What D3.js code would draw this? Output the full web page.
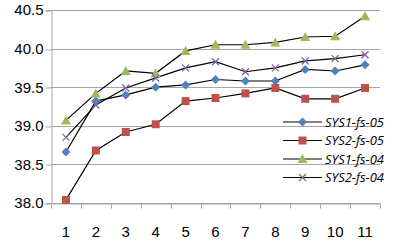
<!DOCTYPE html>
<html lang="en">
<head>
  <meta charset="UTF-8">
  <title>Line chart</title>
  <script src="https://d3js.org/d3.v7.min.js"></script>
  <style>
    body {
      margin: 0;
      background: #fff;
      overflow: hidden;
    }
    .tick-label {
      font-family: "Liberation Sans", Arial, sans-serif;
      font-size: 15px;
      fill: #000;
    }
    .legend-label {
      font-family: "Open Sans", sans-serif;
      font-size: 13px;
      font-style: italic;
      fill: #000;
    }
  </style>
</head>
<body>
  <div id="chart"></div>
  <script>
    const categories = ["1", "2", "3", "4", "5", "6", "7", "8", "9", "10", "11"];
    const seriesNames = ["SYS1-fs-05", "SYS2-fs-05", "SYS1-fs-04", "SYS2-fs-04"];
    const sys1fs05 = [38.66, 39.32, 39.40, 39.50, 39.53, 39.60, 39.58, 39.58, 39.73, 39.71, 39.79];
    const sys2fs05 = [38.04, 38.68, 38.92, 39.02, 39.32, 39.36, 39.42, 39.49, 39.35, 39.35, 39.49];
    const sys1fs04 = [39.07, 39.42, 39.71, 39.68, 39.97, 40.05, 40.05, 40.08, 40.15, 40.16, 40.42];
    const sys2fs04 = [38.85, 39.27, 39.49, 39.62, 39.75, 39.83, 39.70, 39.75, 39.84, 39.87, 39.92];
    const yTicks = [38.0, 38.5, 39.0, 39.5, 40.0, 40.5];

    const markerColors = ["#4F81BD", "#C0504D", "#9BBB59", "#8064A2"];
    const markerTypes = ["diamond", "square", "triangle", "cross"];
    const seriesValues = [sys1fs05, sys2fs05, sys1fs04, sys2fs04];

    const width = 397, height = 244;
    const margin = { left: 51, right: 17, top: 10, bottom: 41 };

    const svg = d3.select("#chart").append("svg")
      .attr("width", width)
      .attr("height", height);

    const x = d3.scaleBand()
      .domain(categories)
      .range([margin.left, width - margin.right]);

    const y = d3.scaleLinear()
      .domain([38.0, 40.5])
      .range([height - margin.bottom, margin.top]);

    // gridlines
    svg.append("g")
      .selectAll("line")
      .data(yTicks)
      .join("line")
      .attr("x1", margin.left)
      .attr("x2", width - margin.right)
      .attr("y1", d => Math.round(y(d)) + 0.5)
      .attr("y2", d => Math.round(y(d)) + 0.5)
      .attr("stroke", "#a6a6a6")
      .attr("stroke-width", 1);

    // y axis
    const yAxis = svg.append("g")
      .attr("transform", `translate(${margin.left + 0.5},0)`)
      .call(d3.axisLeft(y).tickValues(yTicks).tickFormat(d3.format(".1f")).tickSize(6).tickPadding(5));
    yAxis.select(".domain").attr("stroke", "#a6a6a6");
    yAxis.selectAll(".tick line").attr("stroke", "#a6a6a6")
      .attr("transform", d => `translate(0,${Math.round(y(d)) + 0.5 - y(d)})`);
    yAxis.selectAll(".tick text").attr("class", "tick-label").attr("font-size", null).attr("font-family", null)
      .attr("x", -8);

    // x axis
    const xAxis = svg.append("g")
      .attr("transform", `translate(0,${Math.round(y(38.0)) + 0.5})`)
      .call(d3.axisBottom(x).tickSize(0).tickPadding(23));
    xAxis.select(".domain").attr("stroke", "#a6a6a6");
    xAxis.selectAll(".tick text").attr("class", "tick-label").attr("font-size", null).attr("font-family", null);

    const boundaries = categories.map(c => x(c)).concat([x(categories[categories.length - 1]) + x.bandwidth()]);
    xAxis.append("g")
      .selectAll("line")
      .data(boundaries)
      .join("line")
      .attr("x1", d => Math.round(d) + 0.5)
      .attr("x2", d => Math.round(d) + 0.5)
      .attr("y1", 0)
      .attr("y2", 5)
      .attr("stroke", "#a6a6a6");

    const cx = (c) => x(c) + x.bandwidth() / 2;

    function drawMarker(g, type, color) {
      if (type === "diamond") {
        g.append("path").attr("d", "M0,-4.5L4.5,0L0,4.5L-4.5,0Z").attr("fill", color);
      } else if (type === "square") {
        g.append("rect").attr("x", -4).attr("y", -4).attr("width", 8).attr("height", 8).attr("fill", color);
      } else if (type === "triangle") {
        g.append("path").attr("d", "M0,-5L5,4L-5,4Z").attr("fill", color);
      } else {
        g.append("path").attr("d", "M-3.5,-3.5L3.5,3.5M-3.5,3.5L3.5,-3.5")
          .attr("stroke", color).attr("stroke-width", 1.3).attr("fill", "none");
      }
    }

    const line = d3.line()
      .x((d, i) => cx(categories[i]))
      .y(d => y(d));

    seriesValues.forEach((vals, si) => {
      svg.append("path")
        .datum(vals)
        .attr("fill", "none")
        .attr("stroke", "#000")
        .attr("stroke-width", 1.2)
        .attr("d", line);
    });

    seriesValues.forEach((vals, si) => {
      vals.forEach((v, i) => {
        const g = svg.append("g").attr("transform", `translate(${cx(categories[i])},${y(v)})`);
        drawMarker(g, markerTypes[si], markerColors[si]);
      });
    });

    // legend (no background, gridlines run through it)
    const legend = svg.append("g").attr("transform", "translate(283,122)");
    seriesNames.forEach((name, i) => {
      const row = legend.append("g").attr("transform", `translate(0,${i * 18.5})`);
      row.append("line").attr("x1", 0).attr("x2", 39).attr("y1", 0).attr("y2", 0)
        .attr("stroke", "#000").attr("stroke-width", 1.2);
      const m = row.append("g").attr("transform", "translate(19.5,0)");
      drawMarker(m, markerTypes[i], markerColors[i]);
      row.append("text").attr("class", "legend-label").attr("x", 42).attr("y", 0)
        .attr("dy", "0.35em").text(name);
    });
  </script>
</body>
</html>
